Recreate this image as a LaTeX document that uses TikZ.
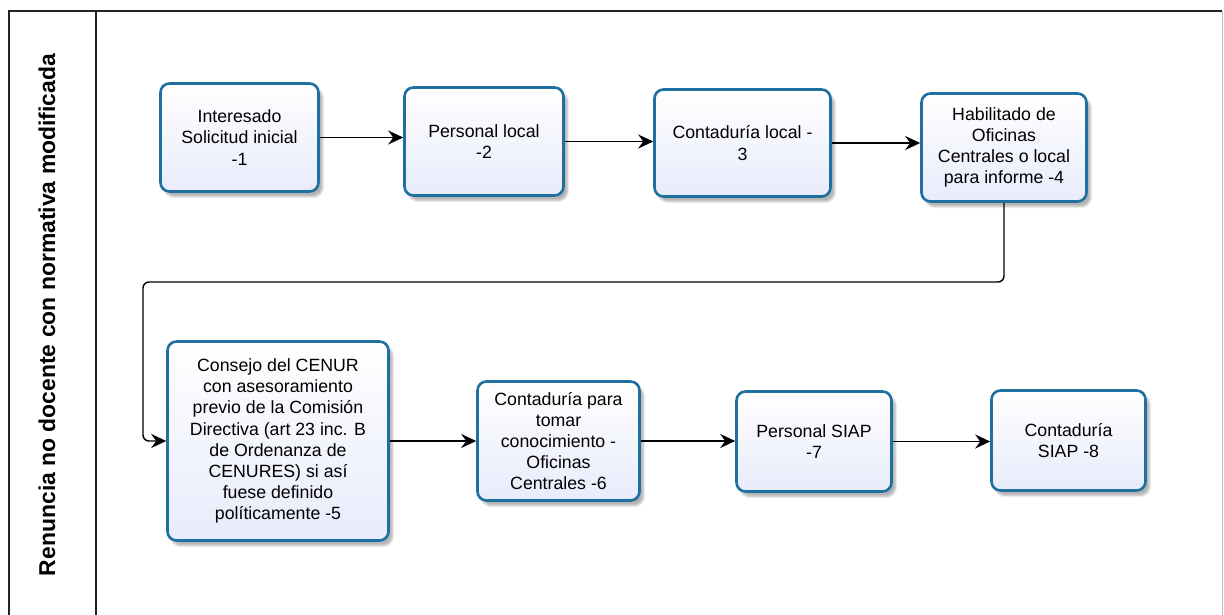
\documentclass[tikz,border=0pt]{standalone}
\usepackage{fontspec}
\setmainfont{Liberation Sans}
\usepackage{tikz}
\usetikzlibrary{arrows.meta}
\usetikzlibrary{shadows.blur}
\usetikzlibrary{positioning}
\definecolor{steelblue}{RGB}{31, 112, 160}
\definecolor{lavender}{RGB}{232, 235, 251}
\definecolor{poolline}{RGB}{35, 35, 35}

\tikzset{
  task/.style={draw=steelblue, line width=2.6bp, rounded corners=9bp,
    top color=white, bottom color=lavender, align=center, inner sep=2bp,
    font=\fontsize{17.8}{21.2}\selectfont,
    blur shadow={shadow xshift=4bp, shadow yshift=-5bp, shadow blur steps=6, shadow opacity=30}},
  flow/.style={-{Stealth[length=15bp, width=14bp, inset=5bp]}, line width=1.4bp, black}
}

\begin{document}
\begin{tikzpicture}[x=1bp, y=-1bp]
    \useasboundingbox (0,0) rectangle (1224,615);
    % pool and lane
    \draw[poolline, line width=1.4bp] (9,620) -- (9,11) -- (1222,11);
    \draw[gray!50, line width=1bp] (1222,11) -- (1222,620);
    \draw[poolline, line width=1.4bp] (96,11) -- (96,620);
    \node[rotate=90, font=\bfseries\fontsize{23}{27}\selectfont] (lane) at (47,315)
         {Renuncia no docente con normativa modificada};

    % first row
    \node[task, minimum width=158bp, minimum height=108bp] (n1) at (239.5,137.5)
         {Interesado\\Solicitud inicial\\-1};
    \node[task, minimum width=159bp, minimum height=108bp] (n2) at (484,141.5)
         {Personal local\\-2};
    \node[task, minimum width=176bp, minimum height=107bp] (n3) at (742.5,143)
         {Contaduría local -\\3};
    \node[task, minimum width=165bp, minimum height=108bp] (n4) at (1004,147.5)
         {Habilitado de\\Oficinas\\Centrales o local\\para informe -4};

    % second row
    \node[task, minimum width=221bp, minimum height=199bp] (n5) at (278,441)
         {Consejo del CENUR\\con asesoramiento\\previo de la Comisión\\Directiva (art 23 inc. B\\de Ordenanza de\\CENURES) si así\\fuese definido\\políticamente -5};
    \node[task, minimum width=162bp, minimum height=119bp] (n6) at (558.5,441)
         {Contaduría para\\tomar\\conocimiento -\\Oficinas\\Centrales -6};
    \node[task, minimum width=155bp, minimum height=100bp] (n7) at (814,441.5)
         {Personal SIAP\\-7};
    \node[task, minimum width=154bp, minimum height=100bp] (n8) at (1068.5,440.5)
         {Contaduría\\SIAP -8};

    % connectors
    \draw[flow] (n1.east) -- (n1.east -| n2.west);
    \draw[flow] (n2.east) -- (n2.east -| n3.west);
    \draw[flow] (n3.east) -- (n3.east -| n4.west);
    \coordinate (back) at (143,282);
    \draw[flow, rounded corners=6bp] (n4.south) |- (back) |- (n5.west);
    \draw[flow] (n5.east) -- (n5.east -| n6.west);
    \draw[flow] (n6.east) -- (n6.east -| n7.west);
    \draw[flow] (n7.east) -- (n7.east -| n8.west);
\end{tikzpicture}
\end{document}
